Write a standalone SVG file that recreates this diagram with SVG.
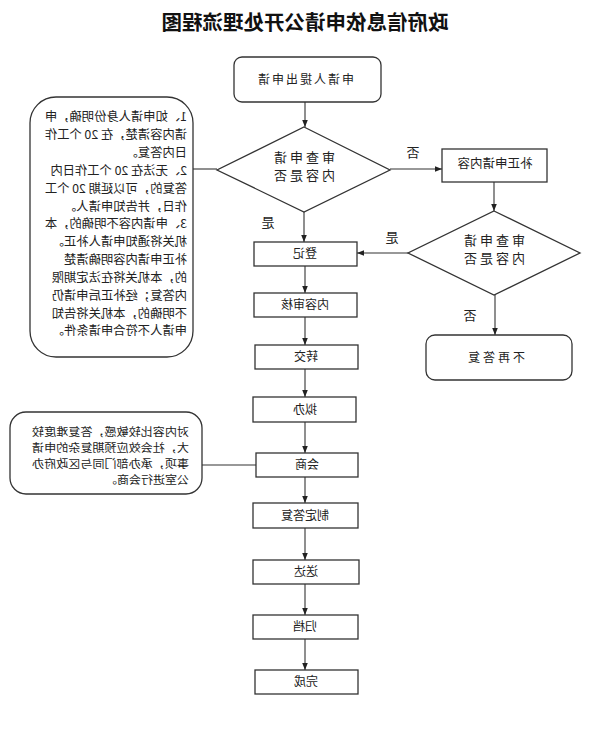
<svg xmlns="http://www.w3.org/2000/svg" width="609" height="736" viewBox="0 0 609 736">
<style>
text{font-family:"Noto Sans CJK SC","Noto Sans",sans-serif;fill:#222;}
.box{fill:#fff;stroke:#333;stroke-width:1.3;}
.ln{fill:none;stroke:#333;stroke-width:1.1;}
.c{text-anchor:middle;font-size:12px;}
.d{text-anchor:middle;font-size:13px;letter-spacing:3px;}
.n{font-size:12.3px;text-anchor:start;}
.m{font-size:11.3px;text-anchor:start;}
.lb{font-size:13px;text-anchor:middle;}
</style>
<defs>
<marker id="ah" viewBox="0 0 10 10" refX="10" refY="5" markerWidth="7" markerHeight="7" orient="auto" markerUnits="userSpaceOnUse">
<path d="M0,1 L10,5 L0,9 z" fill="#222"/>
</marker>
</defs>
<rect width="609" height="736" fill="#fff"/>
<g id="title"><text x="304" y="30" transform="matrix(-1 0 0 1 609 0)" style="font-size:20.5px;font-weight:bold;text-anchor:middle;fill:#111">政府信息依申请公开处理流程图</text></g>
<g id="connectors">
<line class="ln" x1="305" y1="102" x2="305" y2="127" marker-end="url(#ah)"/>
<line class="ln" x1="217" y1="169" x2="193" y2="169"/>
<line class="ln" x1="390" y1="169" x2="442" y2="169" marker-end="url(#ah)"/>
<line class="ln" x1="494" y1="182" x2="494" y2="211" marker-end="url(#ah)"/>
<line class="ln" x1="408" y1="253" x2="357" y2="253" marker-end="url(#ah)"/>
<line class="ln" x1="304" y1="212" x2="304" y2="242" marker-end="url(#ah)"/>
<line class="ln" x1="495" y1="295" x2="495" y2="335" marker-end="url(#ah)"/>
<line class="ln" x1="305" y1="266" x2="305" y2="293" marker-end="url(#ah)"/>
<line class="ln" x1="305" y1="317" x2="305" y2="345" marker-end="url(#ah)"/>
<line class="ln" x1="305" y1="369" x2="305" y2="397" marker-end="url(#ah)"/>
<line class="ln" x1="305" y1="422" x2="305" y2="453" marker-end="url(#ah)"/>
<line class="ln" x1="202" y1="465" x2="256" y2="465"/>
<line class="ln" x1="305" y1="477" x2="305" y2="503" marker-end="url(#ah)"/>
<line class="ln" x1="305" y1="528" x2="305" y2="560" marker-end="url(#ah)"/>
<line class="ln" x1="305" y1="584" x2="305" y2="615" marker-end="url(#ah)"/>
<line class="ln" x1="305" y1="639" x2="305" y2="670" marker-end="url(#ah)"/>
<text class="lb" x="196" y="157" transform="matrix(-1 0 0 1 609 0)">否</text>
<text class="lb" x="217" y="242" transform="matrix(-1 0 0 1 609 0)">是</text>
<text class="lb" x="341" y="227" transform="matrix(-1 0 0 1 609 0)">是</text>
<text class="lb" x="139" y="320" transform="matrix(-1 0 0 1 609 0)">否</text>
</g>
<g id="start"><rect class="box" x="234" y="57" width="147" height="45" rx="8"/><text class="c" x="304" y="84" style="letter-spacing:2px" transform="matrix(-1 0 0 1 609 0)">申请人提出申请</text></g>
<g id="check1"><polygon class="box" points="304,127 390,170 304,212 217,170"/><text class="d" x="306" y="162" transform="matrix(-1 0 0 1 609 0)">审查申请</text><text class="d" x="306" y="180" transform="matrix(-1 0 0 1 609 0)">内容是否</text></g>
<g id="note1"><rect class="box" x="30" y="97" width="163" height="260" rx="26"/>
<g transform="matrix(-1 0 0 1 609 0)">
<text class="n" x="422" y="121">1、如申请人身份明确，申</text>
<text class="n" x="422" y="139">请内容清楚，在 20 个工作</text>
<text class="n" x="422" y="157">日内答复。</text>
<text class="n" x="422" y="175">2、无法在 20 个工作日内</text>
<text class="n" x="422" y="193">答复的，可以延期 20 个工</text>
<text class="n" x="422" y="211">作日，并告知申请人。</text>
<text class="n" x="422" y="228">3、申请内容不明确的，本</text>
<text class="n" x="422" y="246">机关将通知申请人补正。</text>
<text class="n" x="422" y="264">补正申请内容明确清楚</text>
<text class="n" x="422" y="282">的，本机关将在法定期限</text>
<text class="n" x="422" y="300">内答复；经补正后申请仍</text>
<text class="n" x="422" y="318">不明确的，本机关将告知</text>
<text class="n" x="422" y="335">申请人不符合申请条件。</text>
</g></g>
<g id="amend"><rect class="box" x="442" y="149" width="105" height="33"/><text class="c" x="114" y="168" style="font-size:12.5px" transform="matrix(-1 0 0 1 609 0)">补正申请内容</text></g>
<g id="check2"><polygon class="box" points="494,211 580,253 494,295 408,253"/><text class="d" x="116" y="245" transform="matrix(-1 0 0 1 609 0)">审查申请</text><text class="d" x="116" y="263" transform="matrix(-1 0 0 1 609 0)">内容是否</text></g>
<g id="noreply"><rect class="box" x="426" y="335" width="146" height="45" rx="9"/><text class="c" x="114" y="362" style="letter-spacing:3px" transform="matrix(-1 0 0 1 609 0)">不再答复</text></g>
<g id="register"><rect class="box" x="254" y="242" width="103" height="24"/><text class="c" x="304" y="258" transform="matrix(-1 0 0 1 609 0)">登记</text></g>
<g id="review"><rect class="box" x="254" y="293" width="103" height="24"/><text class="c" x="304" y="309" transform="matrix(-1 0 0 1 609 0)">内容审核</text></g>
<g id="transfer"><rect class="box" x="255" y="345" width="103" height="24"/><text class="c" x="303" y="361" transform="matrix(-1 0 0 1 609 0)">转交</text></g>
<g id="draft"><rect class="box" x="253" y="397" width="103" height="25"/><text class="c" x="304" y="414" transform="matrix(-1 0 0 1 609 0)">拟办</text></g>
<g id="consult"><rect class="box" x="256" y="453" width="102" height="24"/><text class="c" x="302" y="469" transform="matrix(-1 0 0 1 609 0)">会商</text></g>
<g id="note2"><rect class="box" x="10" y="412" width="192" height="82" rx="16"/>
<g transform="matrix(-1 0 0 1 609 0)">
<text class="m" x="420" y="436" textLength="157" lengthAdjust="spacingAndGlyphs">对内容比较敏感，答复难度较</text>
<text class="m" x="420" y="452" textLength="157" lengthAdjust="spacingAndGlyphs">大，社会效应预期复杂的申请</text>
<text class="m" x="420" y="468" textLength="157" lengthAdjust="spacingAndGlyphs">事项，承办部门同与区政府办</text>
<text class="m" x="420" y="484" textLength="84" lengthAdjust="spacingAndGlyphs">公室进行会商。</text>
</g></g>
<g id="decide"><rect class="box" x="253" y="503" width="105" height="25"/><text class="c" x="304" y="520" transform="matrix(-1 0 0 1 609 0)">制定答复</text></g>
<g id="deliver"><rect class="box" x="253" y="560" width="106" height="24"/><text class="c" x="303" y="576" transform="matrix(-1 0 0 1 609 0)">送达</text></g>
<g id="archive"><rect class="box" x="253" y="615" width="105" height="24"/><text class="c" x="304" y="631" transform="matrix(-1 0 0 1 609 0)">归档</text></g>
<g id="done"><rect class="box" x="255" y="670" width="103" height="24"/><text class="c" x="303" y="686" transform="matrix(-1 0 0 1 609 0)">完成</text></g>
</svg>
